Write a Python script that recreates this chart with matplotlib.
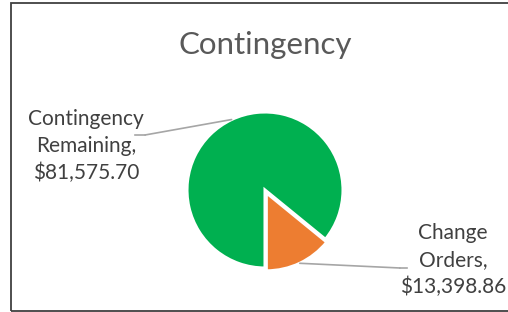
import numpy as np
import matplotlib.pyplot as plt
from matplotlib.patches import Rectangle
from matplotlib.lines import Line2D

plt.rcParams['font.family'] = ['Lato', 'DejaVu Sans']

# data
names = ["Contingency\nRemaining", "Change\nOrders"]
values = [81575.70, 13398.86]
colors = ["#00B050", "#ED7D31"]
explode = [0, 0.04]

W, H = 508, 312
fig = plt.figure(figsize=(W / 100, H / 100), dpi=100)

# pie centre (265, 190) px from top-left, radius ~78 px
r_px = 78
lim = 1.2
half = lim * r_px
ax = fig.add_axes([(265 - half) / W, (H - 190 - half) / H, 2 * half / W, 2 * half / H])
wedges, _ = ax.pie(values, colors=colors, explode=explode, startangle=-90,
                   counterclock=False,
                   wedgeprops=dict(edgecolor="white", linewidth=2.2))
ax.set_xlim(-lim, lim)
ax.set_ylim(-lim, lim)
ax.set_aspect("equal")
ax.axis("off")

fig.text(265 / W, 1 - 45 / H, "Contingency", ha="center", va="center",
         fontsize=22.5, color="#595959")

# data labels with leader lines
label_pos = [(86, 146), (453, 260)]      # label centre, px from top-left
elbows = [[(135, 135), (145, 135)], [(407, 268), (400, 268)]]
for i, w in enumerate(wedges):
    ang = np.deg2rad((w.theta1 + w.theta2) / 2)
    cx, cy = w.center
    px, py = cx + w.r * np.cos(ang), cy + w.r * np.sin(ang)
    txt = f"{names[i]},\n${values[i]:,.2f}"
    lx, ly = label_pos[i]
    fig.text(lx / W, 1 - ly / H, txt, ha="center", va="center",
             fontsize=15, color="#404040", linespacing=1.45)
    (ax1, ay1), (ax2, ay2) = elbows[i]
    fig.add_artist(Line2D([ax1 / W, ax2 / W], [1 - ay1 / H, 1 - ay2 / H],
                          transform=fig.transFigure, color="#A6A6A6", lw=1.2))
    ax.annotate("", xy=(px, py), xycoords="data",
                xytext=(ax2, H - ay2), textcoords="figure pixels",
                arrowprops=dict(arrowstyle="-", color="#A6A6A6", lw=1.2,
                                shrinkA=0, shrinkB=0))

# chart border
fig.add_artist(Rectangle((10.5 / W, 1.5 / H), 1.0, (H - 4.5) / H,
                         transform=fig.transFigure, fill=False,
                         edgecolor="#404040", lw=1.3))

fig.savefig("out.png", dpi=100)
